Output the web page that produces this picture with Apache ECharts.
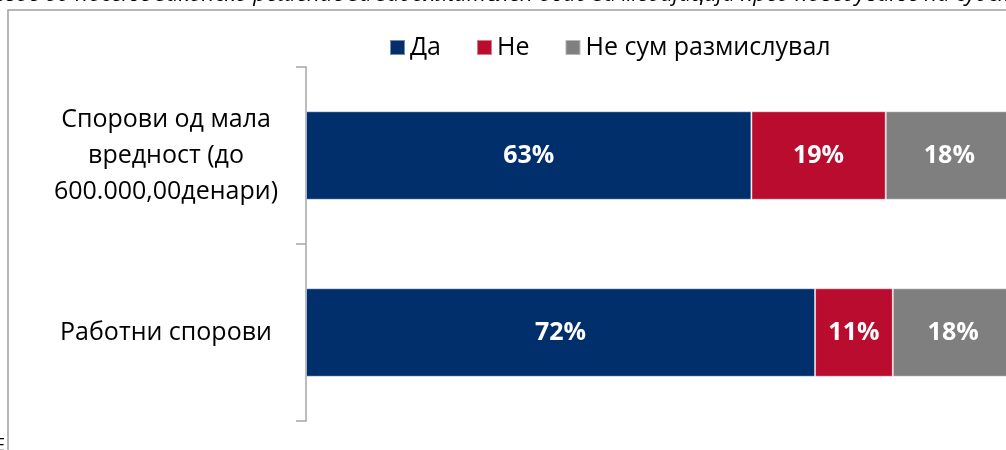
<!DOCTYPE html>
<html>
<head>
<meta charset="utf-8">
<script src="https://cdn.jsdelivr.net/npm/echarts@6/dist/echarts.min.js"></script>
<style>
  html, body { margin: 0; padding: 0; background: #fff; overflow: hidden; }
  #chart { width: 1024px; height: 450px; }
</style>
</head>
<body>
<div id="chart"></div>
<script>
// Survey answers per type of dispute (percent of respondents)
const categories = ['Спорови од мала\nвредност (до\n600.000,00денари)', 'Работни спорови'];
const seriesNames = ['Да', 'Не', 'Не сум размислувал'];
const yesValues = [63, 72];
const noValues = [19, 11];
const unsureValues = [18, 18];
const headerText = 'свое од носење законско решение за задолжителен обид за медијација пред поведување на судска постапка';

const colors = ['#002F6C', '#BA0C2F', '#7F7F7F'];
const font = '"Open Sans", "Noto Sans", sans-serif';

const chart = echarts.init(document.getElementById('chart'), null, { renderer: 'canvas' });

function barSeries(name, data, color) {
  return {
    name: name,
    type: 'bar',
    stack: 'total',
    barCategoryGap: '50%',
    data: data,
    itemStyle: { color: color, borderColor: 'rgba(255,255,255,0.45)', borderWidth: 1 },
    label: {
      show: true,
      position: 'inside',
      formatter: '{c}%',
      color: '#fff',
      fontFamily: font,
      fontWeight: 'bold',
      fontSize: 25
    },
    emphasis: { disabled: true }
  };
}

chart.setOption({
  animation: false,
  color: colors,
  textStyle: { fontFamily: font },
  legend: {
    top: 30,
    left: 384,
    itemWidth: 15,
    itemHeight: 15,
    itemGap: 35,
    icon: 'rect',
    textStyle: { fontFamily: font, fontSize: 25, color: '#000' },
    data: seriesNames
  },
  grid: { left: 306, top: 67, width: 707, height: 354, containLabel: false },
  xAxis: { type: 'value', min: 0, max: 100, show: false },
  yAxis: {
    type: 'category',
    inverse: true,
    data: categories,
    axisLine: { show: true, lineStyle: { color: '#A6A6A6', width: 1.5 } },
    axisTick: { show: true, length: 10, lineStyle: { color: '#A6A6A6', width: 1.5 } },
    axisLabel: {
      margin: 140,
      align: 'center',
      color: '#000',
      fontFamily: font,
      fontSize: 25,
      lineHeight: 36
    }
  },
  graphic: [
    {
      type: 'rect',
      shape: { x: 8, y: 10, width: 1100, height: 500 },
      style: { fill: 'none', stroke: '#A0A0A0', lineWidth: 1.5 },
      silent: true,
      z: -1
    },
    {
      type: 'text',
      x: -6,
      y: -16,
      style: { text: headerText, fontFamily: font, fontStyle: 'italic', fontSize: 22, fill: '#000' },
      silent: true
    },
    {
      type: 'text',
      x: -5,
      y: 437,
      style: { text: 'Е', fontFamily: font, fontSize: 18, fill: '#000' },
      silent: true
    }
  ],
  series: [
    barSeries(seriesNames[0], yesValues, colors[0]),
    barSeries(seriesNames[1], noValues, colors[1]),
    barSeries(seriesNames[2], unsureValues, colors[2])
  ]
});
</script>
</body>
</html>
